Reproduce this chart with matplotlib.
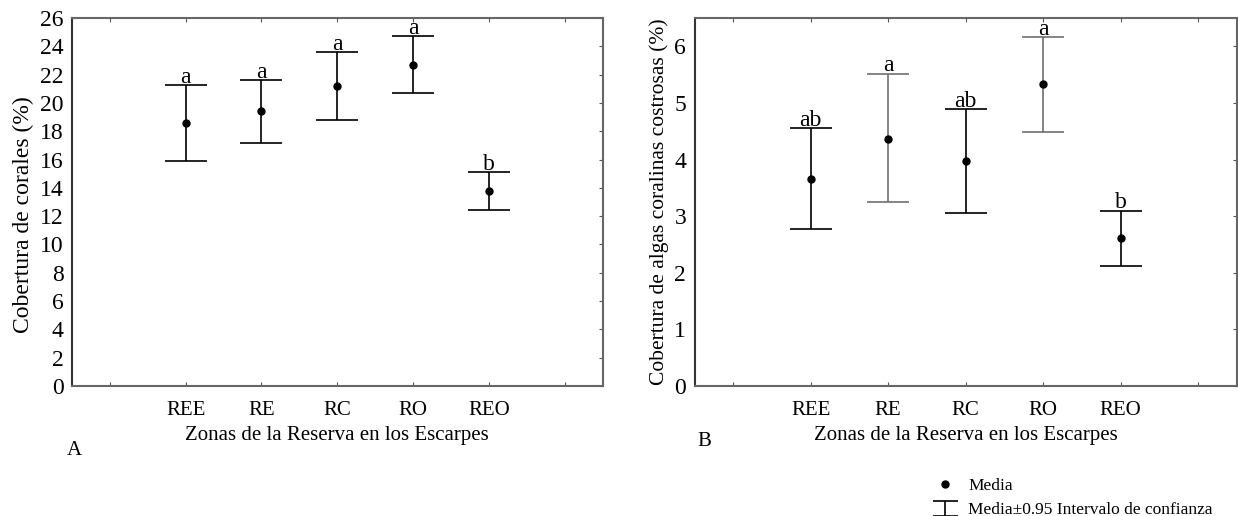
import numpy as np
import matplotlib
matplotlib.use("Agg")
import matplotlib.pyplot as plt
from matplotlib.lines import Line2D
from matplotlib.container import ErrorbarContainer
from matplotlib.collections import LineCollection
from matplotlib.legend_handler import HandlerErrorbar

plt.rcParams['font.family'] = ['Liberation Serif', 'DejaVu Serif']

zones = ["REE", "RE", "RC", "RO", "REO"]

# Panel A: cobertura de corales (%)
coral_mean = [18.6, 19.4, 21.2, 22.7, 13.75]
coral_low = [15.9, 17.2, 18.8, 20.7, 12.45]
coral_high = [21.25, 21.65, 23.6, 24.7, 15.1]
coral_letters = ["a", "a", "a", "a", "b"]

# Panel B: cobertura de algas coralinas costrosas (%)
algae_mean = [3.66, 4.37, 3.98, 5.33, 2.61]
algae_low = [2.77, 3.25, 3.05, 4.48, 2.12]
algae_high = [4.56, 5.52, 4.90, 6.17, 3.10]
algae_letters = ["ab", "a", "ab", "a", "b"]
algae_colors = ["black", "#707070", "black", "#707070", "black"]

FS = 15


def panel(ax, mean, low, high, letters, colors, ylim, yticks, ylabel, ylab_fs, ylab_y,
          tag, tagpos):
    x = np.arange(len(zones)) + 1.5
    mean = np.array(mean)
    err = [mean - np.array(low), np.array(high) - mean]
    for i in range(len(zones)):
        ax.errorbar(x[i], mean[i], yerr=[[err[0][i]], [err[1][i]]], fmt="none",
                    ecolor=colors[i], elinewidth=1.2, capsize=15, capthick=1.2)
        ax.annotate(letters[i], (x[i], high[i]), xytext=(0, 1.5), textcoords="offset points",
                    ha="center", va="baseline", fontsize=17, annotation_clip=False)
    ax.plot(x, mean, "o", color="black", markersize=5)
    ax.set_xlim(0, 7)
    ax.set_xticks(np.arange(7) + 0.5)
    ax.set_xticklabels([""] + zones + [""], fontsize=FS)
    ax.set_ylim(*ylim)
    ax.set_yticks(yticks)
    ax.tick_params(axis="y", labelsize=17, pad=6)
    ax.tick_params(axis="x", pad=11)
    ax.tick_params(direction="in", length=3, top=True, right=True, left=False,
                   color="#555555")
    for s in ax.spines.values():
        s.set_color("#666666")
        s.set_linewidth(1.5)
    ax.spines["left"].set_color("#333333")
    ax.set_xlabel("Zonas de la Reserva en los Escarpes", fontsize=FS, labelpad=4)
    ax.set_ylabel(ylabel, fontsize=ylab_fs, labelpad=4)
    ax.yaxis.label.set_y(ylab_y)
    ax.text(tagpos[0], tagpos[1], tag, transform=ax.transAxes, fontsize=FS, va="top")


fig = plt.figure(figsize=(12.38, 5.16), dpi=100)
ax1 = fig.add_axes([0.058, 0.252, 0.429, 0.713])
ax2 = fig.add_axes([0.561, 0.252, 0.438, 0.713])

panel(ax1, coral_mean, coral_low, coral_high, coral_letters, ["black"] * 5,
      (0, 26), range(0, 27, 2), "Cobertura de corales (%)", 17, 0.465,
      "A", (-0.01, -0.15))
panel(ax2, algae_mean, algae_low, algae_high, algae_letters, algae_colors,
      (0, 6.5), range(0, 7), "Cobertura de algas coralinas costrosas (%)", 15.5, 0.5,
      "B", (0.005, -0.125))

# legend symbols
mean_handle = Line2D([], [], marker="o", color="black", linestyle="none", markersize=5)
cap = Line2D([], [], color="black", marker="_", markersize=18, markeredgewidth=1.2,
             linestyle="none")
bar = LineCollection([], colors="black", linewidths=1.2)
ci_handle = ErrorbarContainer((None, (cap, cap), (bar,)), has_xerr=False, has_yerr=True)
fig.legend([mean_handle, ci_handle], ["Media", "Media±0.95 Intervalo de confianza"],
           loc="lower right", bbox_to_anchor=(0.992, -0.035), frameon=False,
           fontsize=12.5, handlelength=1.6, handletextpad=0.5, labelspacing=0.45,
           handler_map={ErrorbarContainer: HandlerErrorbar(yerr_size=0.42)})

fig.savefig("out.png", dpi=100)
